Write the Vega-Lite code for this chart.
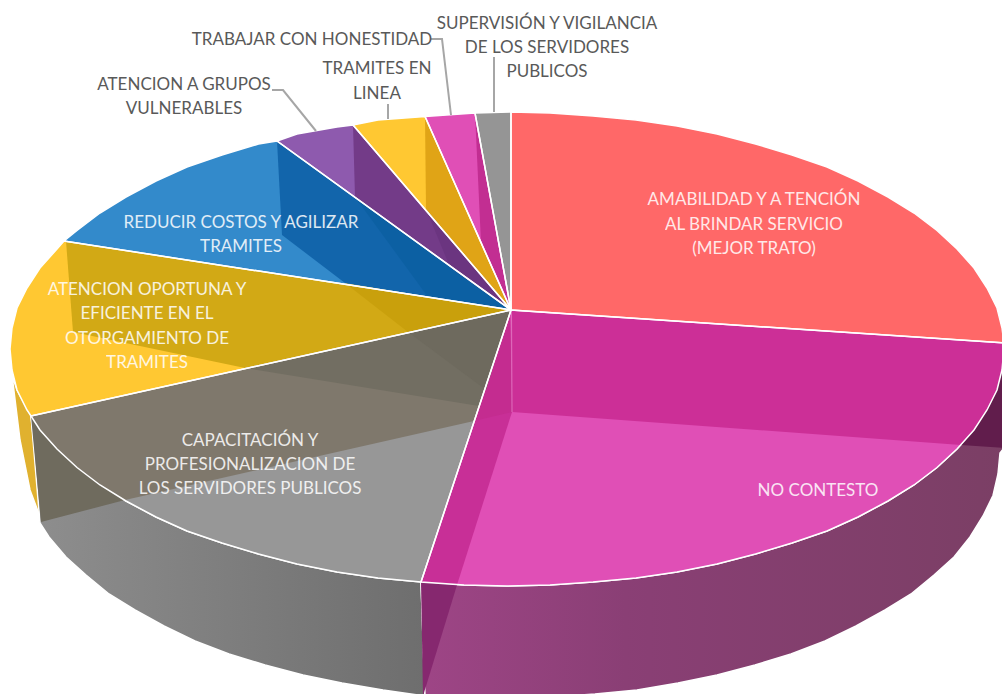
{"$schema":"https://vega.github.io/schema/vega-lite/v6.json","width":1002,"height":694,"padding":0,"autosize":"none","background":"white","view":{"stroke":null},
"datasets":{
"rimYellow":[{"i":0,"x":12,"y":375},{"i":1,"x":17,"y":390},{"i":2,"x":31,"y":416},{"i":3,"x":42,"y":522},{"i":4,"x":30,"y":490},{"i":5,"x":20,"y":440}],
"rimGray":[{"i":0,"x":31,"y":416},{"i":1,"x":40,"y":430},{"i":2,"x":57,"y":449},{"i":3,"x":77,"y":467.5},{"i":4,"x":100,"y":485},{"i":5,"x":126,"y":501},{"i":6,"x":156,"y":517},{"i":7,"x":187,"y":531},{"i":8,"x":222,"y":543},{"i":9,"x":258.5,"y":554},{"i":10,"x":297,"y":564},{"i":11,"x":337,"y":572},{"i":12,"x":378,"y":578},{"i":13,"x":421,"y":582},{"i":14,"x":425,"y":696},{"i":15,"x":383,"y":690},{"i":16,"x":342,"y":683},{"i":17,"x":303,"y":675},{"i":18,"x":265,"y":665},{"i":19,"x":229,"y":654},{"i":20,"x":195,"y":641},{"i":21,"x":164,"y":626},{"i":22,"x":135,"y":610},{"i":23,"x":109,"y":594},{"i":24,"x":86,"y":575},{"i":25,"x":66,"y":557},{"i":26,"x":49,"y":537},{"i":27,"x":40,"y":523}],
"rimMagenta":[{"i":0,"x":421,"y":582},{"i":1,"x":464,"y":585},{"i":2,"x":507,"y":586},{"i":3,"x":550,"y":585},{"i":4,"x":593,"y":582},{"i":5,"x":636,"y":578},{"i":6,"x":677,"y":572},{"i":7,"x":717,"y":564},{"i":8,"x":755.5,"y":554},{"i":9,"x":792,"y":543},{"i":10,"x":827,"y":531},{"i":11,"x":858,"y":517},{"i":12,"x":888,"y":501},{"i":13,"x":914,"y":485},{"i":14,"x":937,"y":467.5},{"i":15,"x":957,"y":449},{"i":16,"x":974,"y":430},{"i":17,"x":987,"y":410},{"i":18,"x":997,"y":390},{"i":19,"x":1002,"y":370},{"i":20,"x":1004,"y":349},{"i":21,"x":1004,"y":448},{"i":22,"x":1000,"y":453},{"i":23,"x":998,"y":474},{"i":24,"x":993,"y":495.5},{"i":25,"x":983,"y":516},{"i":26,"x":970,"y":537},{"i":27,"x":954,"y":557},{"i":28,"x":934,"y":575},{"i":29,"x":911,"y":594},{"i":30,"x":885,"y":610},{"i":31,"x":856,"y":626},{"i":32,"x":825,"y":641},{"i":33,"x":791,"y":654},{"i":34,"x":755,"y":665},{"i":35,"x":717,"y":675},{"i":36,"x":678,"y":683},{"i":37,"x":637,"y":690},{"i":38,"x":595,"y":694},{"i":39,"x":553,"y":697},{"i":40,"x":510,"y":698},{"i":41,"x":467,"y":697},{"i":42,"x":425,"y":696}],
"tops":[
{"part":"Amabilidad","i":0,"x":511,"y":310},{"part":"Amabilidad","i":1,"x":511,"y":112},{"part":"Amabilidad","i":2,"x":550,"y":113},{"part":"Amabilidad","i":3,"x":593,"y":116},{"part":"Amabilidad","i":4,"x":636,"y":120},{"part":"Amabilidad","i":5,"x":677,"y":126},{"part":"Amabilidad","i":6,"x":717,"y":134},{"part":"Amabilidad","i":7,"x":755.5,"y":144},{"part":"Amabilidad","i":8,"x":792,"y":155},{"part":"Amabilidad","i":9,"x":827,"y":167},{"part":"Amabilidad","i":10,"x":858,"y":181},{"part":"Amabilidad","i":11,"x":888,"y":197},{"part":"Amabilidad","i":12,"x":914,"y":213},{"part":"Amabilidad","i":13,"x":937,"y":230.5},{"part":"Amabilidad","i":14,"x":957,"y":249},{"part":"Amabilidad","i":15,"x":974,"y":268},{"part":"Amabilidad","i":16,"x":987,"y":288},{"part":"Amabilidad","i":17,"x":997,"y":308},{"part":"Amabilidad","i":18,"x":1002,"y":328},{"part":"Amabilidad","i":19,"x":1004,"y":343},
{"part":"No contesto","i":0,"x":511,"y":310},{"part":"No contesto","i":1,"x":1004,"y":343},{"part":"No contesto","i":2,"x":1004,"y":349},{"part":"No contesto","i":3,"x":1002,"y":370},{"part":"No contesto","i":4,"x":997,"y":390},{"part":"No contesto","i":5,"x":987,"y":410},{"part":"No contesto","i":6,"x":974,"y":430},{"part":"No contesto","i":7,"x":957,"y":449},{"part":"No contesto","i":8,"x":937,"y":467.5},{"part":"No contesto","i":9,"x":914,"y":485},{"part":"No contesto","i":10,"x":888,"y":501},{"part":"No contesto","i":11,"x":858,"y":517},{"part":"No contesto","i":12,"x":827,"y":531},{"part":"No contesto","i":13,"x":792,"y":543},{"part":"No contesto","i":14,"x":755.5,"y":554},{"part":"No contesto","i":15,"x":717,"y":564},{"part":"No contesto","i":16,"x":677,"y":572},{"part":"No contesto","i":17,"x":636,"y":578},{"part":"No contesto","i":18,"x":593,"y":582},{"part":"No contesto","i":19,"x":550,"y":585},{"part":"No contesto","i":20,"x":507,"y":586},{"part":"No contesto","i":21,"x":464,"y":585},{"part":"No contesto","i":22,"x":421,"y":582},
{"part":"Capacitacion","i":0,"x":511,"y":310},{"part":"Capacitacion","i":1,"x":421,"y":582},{"part":"Capacitacion","i":2,"x":378,"y":578},{"part":"Capacitacion","i":3,"x":337,"y":572},{"part":"Capacitacion","i":4,"x":297,"y":564},{"part":"Capacitacion","i":5,"x":258.5,"y":554},{"part":"Capacitacion","i":6,"x":222,"y":543},{"part":"Capacitacion","i":7,"x":187,"y":531},{"part":"Capacitacion","i":8,"x":156,"y":517},{"part":"Capacitacion","i":9,"x":126,"y":501},{"part":"Capacitacion","i":10,"x":100,"y":485},{"part":"Capacitacion","i":11,"x":77,"y":467.5},{"part":"Capacitacion","i":12,"x":57,"y":449},{"part":"Capacitacion","i":13,"x":40,"y":430},{"part":"Capacitacion","i":14,"x":31,"y":416},
{"part":"Atencion oportuna","i":0,"x":511,"y":310},{"part":"Atencion oportuna","i":1,"x":31,"y":416},{"part":"Atencion oportuna","i":2,"x":27,"y":410},{"part":"Atencion oportuna","i":3,"x":17,"y":390},{"part":"Atencion oportuna","i":4,"x":12,"y":370},{"part":"Atencion oportuna","i":5,"x":10,"y":349},{"part":"Atencion oportuna","i":6,"x":12,"y":328},{"part":"Atencion oportuna","i":7,"x":17,"y":308},{"part":"Atencion oportuna","i":8,"x":27,"y":288},{"part":"Atencion oportuna","i":9,"x":40,"y":268},{"part":"Atencion oportuna","i":10,"x":57,"y":249},{"part":"Atencion oportuna","i":11,"x":64,"y":241},
{"part":"Reducir costos","i":0,"x":511,"y":310},{"part":"Reducir costos","i":1,"x":64,"y":241},{"part":"Reducir costos","i":2,"x":77,"y":230.5},{"part":"Reducir costos","i":3,"x":100,"y":213},{"part":"Reducir costos","i":4,"x":126,"y":197},{"part":"Reducir costos","i":5,"x":156,"y":181},{"part":"Reducir costos","i":6,"x":187,"y":167},{"part":"Reducir costos","i":7,"x":222,"y":155},{"part":"Reducir costos","i":8,"x":258.5,"y":144},{"part":"Reducir costos","i":9,"x":277,"y":141},
{"part":"Grupos vulnerables","i":0,"x":511,"y":310},{"part":"Grupos vulnerables","i":1,"x":277,"y":141},{"part":"Grupos vulnerables","i":2,"x":297,"y":134},{"part":"Grupos vulnerables","i":3,"x":337,"y":127},{"part":"Grupos vulnerables","i":4,"x":353,"y":125},
{"part":"Tramites en linea","i":0,"x":511,"y":310},{"part":"Tramites en linea","i":1,"x":353,"y":125},{"part":"Tramites en linea","i":2,"x":378,"y":120},{"part":"Tramites en linea","i":3,"x":425,"y":116.5},
{"part":"Honestidad","i":0,"x":511,"y":310},{"part":"Honestidad","i":1,"x":425,"y":116.5},{"part":"Honestidad","i":2,"x":475,"y":113},
{"part":"Supervision","i":0,"x":511,"y":310},{"part":"Supervision","i":1,"x":475,"y":113},{"part":"Supervision","i":2,"x":511,"y":112}],
"walls":[
{"part":"w1top","i":0,"x":511,"y":310},{"part":"w1top","i":1,"x":1004,"y":343},{"part":"w1top","i":2,"x":1004,"y":349},{"part":"w1top","i":3,"x":1002,"y":370},{"part":"w1top","i":4,"x":997,"y":390},{"part":"w1top","i":5,"x":987,"y":410},{"part":"w1top","i":6,"x":974,"y":430},{"part":"w1top","i":7,"x":961,"y":445},{"part":"w1top","i":8,"x":512,"y":412},
{"part":"w1rim","i":0,"x":1004,"y":349},{"part":"w1rim","i":1,"x":1002,"y":370},{"part":"w1rim","i":2,"x":997,"y":390},{"part":"w1rim","i":3,"x":987,"y":410},{"part":"w1rim","i":4,"x":974,"y":430},{"part":"w1rim","i":5,"x":961,"y":445},{"part":"w1rim","i":6,"x":1004,"y":448},
{"part":"w2top","i":0,"x":510,"y":310},{"part":"w2top","i":1,"x":421,"y":582},{"part":"w2top","i":2,"x":457,"y":585},{"part":"w2top","i":3,"x":512,"y":412},
{"part":"w2rim","i":0,"x":421,"y":582},{"part":"w2rim","i":1,"x":457,"y":585},{"part":"w2rim","i":2,"x":423,"y":696},
{"part":"w3mag","i":0,"x":510,"y":310},{"part":"w3mag","i":1,"x":474,"y":421},{"part":"w3mag","i":2,"x":512,"y":412},
{"part":"w3top","i":0,"x":510,"y":310},{"part":"w3top","i":1,"x":31,"y":416},{"part":"w3top","i":2,"x":40,"y":430},{"part":"w3top","i":3,"x":57,"y":449},{"part":"w3top","i":4,"x":77,"y":467.5},{"part":"w3top","i":5,"x":100,"y":485},{"part":"w3top","i":6,"x":125,"y":500},{"part":"w3top","i":7,"x":474,"y":421},
{"part":"w3rim","i":0,"x":31,"y":416},{"part":"w3rim","i":1,"x":40,"y":430},{"part":"w3rim","i":2,"x":57,"y":449},{"part":"w3rim","i":3,"x":77,"y":467.5},{"part":"w3rim","i":4,"x":100,"y":485},{"part":"w3rim","i":5,"x":125,"y":500},{"part":"w3rim","i":6,"x":41,"y":522},
{"part":"w4top","i":0,"x":66,"y":241},{"part":"w4top","i":1,"x":510,"y":310},{"part":"w4top","i":2,"x":245,"y":368},{"part":"w4top","i":3,"x":73,"y":332},
{"part":"w4gray","i":0,"x":510,"y":310},{"part":"w4gray","i":1,"x":245,"y":368},{"part":"w4gray","i":2,"x":479,"y":406},
{"part":"w5gold","i":0,"x":345,"y":283},{"part":"w5gold","i":1,"x":510,"y":310},{"part":"w5gold","i":2,"x":408,"y":332},
{"part":"w5gray","i":0,"x":408,"y":332},{"part":"w5gray","i":1,"x":510,"y":310},{"part":"w5gray","i":2,"x":486,"y":390},
{"part":"w5top","i":0,"x":277,"y":141},{"part":"w5top","i":1,"x":510,"y":310},{"part":"w5top","i":2,"x":345,"y":283},{"part":"w5top","i":3,"x":282,"y":235},
{"part":"w6blue","i":0,"x":355,"y":197},{"part":"w6blue","i":1,"x":510,"y":310},{"part":"w6blue","i":2,"x":428,"y":297},
{"part":"w6top","i":0,"x":353,"y":125},{"part":"w6top","i":1,"x":510,"y":310},{"part":"w6top","i":2,"x":355,"y":197},
{"part":"w7purple","i":0,"x":426,"y":209},{"part":"w7purple","i":1,"x":510,"y":310},{"part":"w7purple","i":2,"x":450,"y":267},
{"part":"w7top","i":0,"x":425,"y":116.5},{"part":"w7top","i":1,"x":510,"y":310},{"part":"w7top","i":2,"x":426,"y":209},
{"part":"w8top","i":0,"x":475,"y":113},{"part":"w8top","i":1,"x":510,"y":310},{"part":"w8top","i":2,"x":481,"y":243}],
"leaders":[
{"part":"a","i":0,"x":272,"y":90},{"part":"a","i":1,"x":283,"y":90},{"part":"a","i":2,"x":316,"y":131},
{"part":"b","i":0,"x":431,"y":39},{"part":"b","i":1,"x":442,"y":39},{"part":"b","i":2,"x":451,"y":115},
{"part":"c","i":0,"x":388,"y":104},{"part":"c","i":1,"x":388,"y":119},
{"part":"d","i":0,"x":494,"y":57},{"part":"d","i":1,"x":494,"y":112}],
"seam":[{"i":0,"x":511.5,"y":310},{"i":1,"x":512,"y":412}],
"labelsIn":[
{"t":"AMABILIDAD Y A TENCIÓN","x":754,"y":200},{"t":"AL BRINDAR SERVICIO","x":754,"y":225},{"t":"(MEJOR TRATO)","x":754,"y":249},
{"t":"NO CONTESTO","x":818,"y":491},
{"t":"CAPACITACIÓN Y","x":250,"y":441},{"t":"PROFESIONALIZACION DE","x":250,"y":465},{"t":"LOS SERVIDORES PUBLICOS","x":250,"y":489},
{"t":"ATENCION OPORTUNA Y","x":147,"y":290},{"t":"EFICIENTE EN EL","x":147,"y":314},{"t":"OTORGAMIENTO DE","x":147,"y":339},{"t":"TRAMITES","x":147,"y":363},
{"t":"REDUCIR COSTOS Y AGILIZAR","x":241,"y":223},{"t":"TRAMITES","x":241,"y":247}],
"labelsOut":[
{"t":"ATENCION A GRUPOS","x":184,"y":85},{"t":"VULNERABLES","x":184,"y":109},
{"t":"TRAMITES EN","x":377,"y":69},{"t":"LINEA","x":377,"y":94},
{"t":"TRABAJAR CON HONESTIDAD","x":312,"y":40},
{"t":"SUPERVISIÓN Y VIGILANCIA","x":547,"y":24},{"t":"DE LOS SERVIDORES","x":547,"y":48},{"t":"PUBLICOS","x":547,"y":72}]
},
"encoding":{
"x":{"field":"x","type":"quantitative","scale":{"domain":[0,1002]},"axis":null},
"y":{"field":"y","type":"quantitative","scale":{"domain":[694,0]},"axis":null}},
"resolve":{"scale":{"fill":"independent"}},
"layer":[
{"data":{"name":"rimYellow"},"mark":{"type":"line","interpolate":"linear-closed","fill":"#E0B12F","stroke":"white","strokeWidth":1.5,"clip":true},"encoding":{"order":{"field":"i"}}},
{"data":{"name":"rimGray"},"mark":{"type":"line","interpolate":"linear-closed","stroke":"white","strokeWidth":1.5,"clip":true,"fill":{"gradient":"linear","x1":0,"y1":0,"x2":1,"y2":0,"stops":[{"offset":0,"color":"#8E8E8E"},{"offset":1,"color":"#6E6E6E"}]}},"encoding":{"order":{"field":"i"}}},
{"data":{"name":"rimMagenta"},"mark":{"type":"line","interpolate":"linear-closed","stroke":"white","strokeWidth":1.5,"clip":true,"fill":{"gradient":"linear","x1":0,"y1":0,"x2":1,"y2":0,"stops":[{"offset":0,"color":"#9E4586"},{"offset":0.35,"color":"#8A3F75"},{"offset":1,"color":"#7B3F65"}]}},"encoding":{"order":{"field":"i"}}},
{"data":{"name":"tops"},"mark":{"type":"line","interpolate":"linear-closed","strokeWidth":0,"clip":true},"encoding":{"order":{"field":"i"},"fill":{"field":"part","type":"nominal","legend":null,"scale":{"domain":["Amabilidad","No contesto","Capacitacion","Atencion oportuna","Reducir costos","Grupos vulnerables","Tramites en linea","Honestidad","Supervision"],"range":["#FF6868","#E04FB6","#979797","#FFC832","#338ACB","#8E5AAE","#FFC832","#E04FB6","#959595"]}}}},
{"data":{"name":"walls"},"mark":{"type":"line","interpolate":"linear-closed","strokeWidth":0,"clip":true},"encoding":{"order":{"field":"i"},"fill":{"field":"part","type":"nominal","legend":null,"scale":{"domain":["w1top","w1rim","w2top","w2rim","w3mag","w3top","w3rim","w4top","w4gray","w5gold","w5gray","w5top","w6blue","w6top","w7purple","w7top","w8top"],"range":["#CC2F97","#611D4C","#C82F97","#86286F","#C42C90","#7F786C","#6F6B5E","#D2A915","#726E62","#C9A00C","#6E6A5E","#1265AB","#0C60A3","#733B88","#6B3580","#E0A416","#C22E92"]}}}},
{"data":{"name":"seam"},"mark":{"type":"line","stroke":"#E070BE","strokeWidth":1},"encoding":{"order":{"field":"i"}}},
{"data":{"name":"tops"},"mark":{"type":"line","interpolate":"linear-closed","stroke":"white","strokeWidth":1.5,"clip":true},"encoding":{"order":{"field":"i"},"detail":{"field":"part"}}},
{"data":{"name":"leaders"},"mark":{"type":"line","stroke":"#A6A6A6","strokeWidth":2},"encoding":{"order":{"field":"i"},"detail":{"field":"part"}}},
{"data":{"name":"labelsIn"},"mark":{"type":"text","font":"Lato","fontSize":17,"fill":"#FFFFFF","opacity":0.85,"align":"center","baseline":"middle"},"encoding":{"text":{"field":"t"}}},
{"data":{"name":"labelsOut"},"mark":{"type":"text","font":"Lato","fontSize":17,"fill":"#595959","align":"center","baseline":"middle"},"encoding":{"text":{"field":"t"}}}
]}
